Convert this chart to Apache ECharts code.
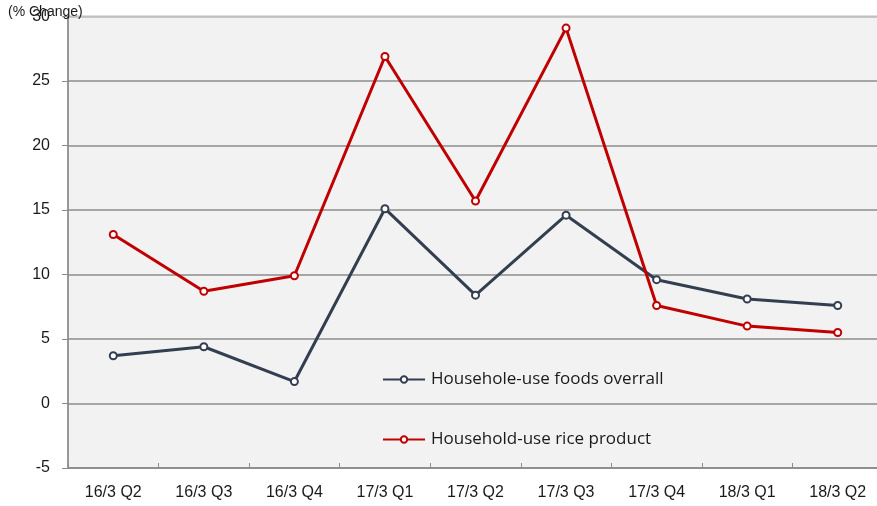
<!DOCTYPE html>
<html>
<head>
<meta charset="utf-8">
<script src="https://cdn.jsdelivr.net/npm/echarts@6/dist/echarts.min.js"></script>
<style>html,body{margin:0;padding:0;background:#fff;overflow:hidden;width:877px;height:506px;}#c{width:883px;height:506px;}</style>
</head>
<body>
<div id="c"></div>
<script>
var categories = ['16/3 Q2','16/3 Q3','16/3 Q4','17/3 Q1','17/3 Q2','17/3 Q3','17/3 Q4','18/3 Q1','18/3 Q2'];
var foodsOverall = [3.7, 4.4, 1.7, 15.1, 8.4, 14.6, 9.6, 8.1, 7.6];
var riceProduct = [13.1, 8.7, 9.9, 26.9, 15.7, 29.1, 7.6, 6.0, 5.5];
var seriesNames = ['Househole-use foods overrall', 'Household-use rice product'];
var yMin = -5, yMax = 30, yStep = 5;
var yTitle = '(% Change)';

var FONT = 'Liberation Sans';
var chart = echarts.init(document.getElementById('c'), null, {renderer: 'canvas'});
chart.setOption({
  animation: false,
  backgroundColor: '#ffffff',
  title: {
    text: yTitle, left: 8, top: 5, padding: 0,
    textStyle: {fontFamily: FONT, fontSize: 14, fontWeight: 'normal', color: '#1a1a1a'}
  },
  grid: {
    left: 68, top: 16.5, bottom: 38, right: 0,
    show: true, backgroundColor: '#F2F2F2', borderColor: '#C0C0C0', borderWidth: 2
  },
  legend: {
    orient: 'vertical', left: 382, top: 371, itemGap: 43, padding: 0,
    itemWidth: 42, itemHeight: 8,
    textStyle: {fontFamily: 'Open Sans', fontSize: 17, color: '#1a1a1a', padding: [0, 0, 0, 1]},
    data: seriesNames
  },
  xAxis: {
    type: 'category', data: categories, boundaryGap: true,
    axisLine: {show: true, onZero: false, lineStyle: {color: '#8C8C8C', width: 1.5}},
    axisTick: {show: true, inside: true, length: 5, lineStyle: {color: '#8C8C8C'}},
    axisLabel: {fontFamily: FONT, fontSize: 16, color: '#1a1a1a', margin: 17},
    splitLine: {show: false}
  },
  yAxis: {
    type: 'value', min: yMin, max: yMax, interval: yStep,
    axisLine: {show: true, lineStyle: {color: '#8C8C8C', width: 1.5}},
    axisTick: {show: true, inside: false, length: 6, lineStyle: {color: '#8C8C8C'}},
    axisLabel: {fontFamily: FONT, fontSize: 16, color: '#1a1a1a', margin: 18},
    splitLine: {show: true, lineStyle: {color: ['#8C8C8C','#8C8C8C','#8C8C8C','#8C8C8C','#8C8C8C','#8C8C8C','#8C8C8C','#C0C0C0'], width: 1.5}}
  },
  series: [
    {
      name: seriesNames[0], type: 'line', data: foodsOverall,
      symbol: 'emptyCircle', symbolSize: 7,
      lineStyle: {color: '#333F50', width: 3},
      itemStyle: {color: '#333F50', borderColor: '#333F50', borderWidth: 1.5}
    },
    {
      name: seriesNames[1], type: 'line', data: riceProduct,
      symbol: 'emptyCircle', symbolSize: 7,
      lineStyle: {color: '#C00000', width: 3},
      itemStyle: {color: '#C00000', borderColor: '#C00000', borderWidth: 1.5}
    }
  ]
});
</script>
</body>
</html>
